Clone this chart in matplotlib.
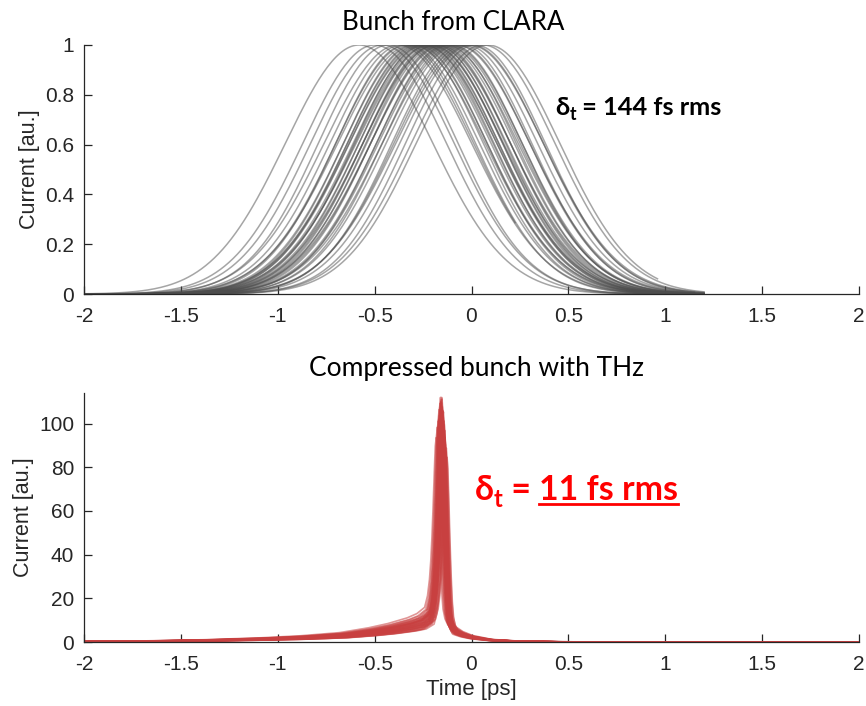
import numpy as np
import matplotlib
matplotlib.use('Agg')
import matplotlib.pyplot as plt
from matplotlib.lines import Line2D

W, H = 866, 706
plt.rcParams['axes.unicode_minus'] = False
plt.rcParams['font.family'] = ['Liberation Sans', 'DejaVu Sans']

# --- bunch from CLARA: peak time [ps], rms width [ps], last sample [ps]
clara_centers = [-0.58, -0.50, -0.46, -0.43, -0.38, -0.36, -0.34, -0.33, -0.31, -0.30,
                 -0.29, -0.28, -0.27, -0.26, -0.25, -0.245, -0.24, -0.23, -0.22, -0.215,
                 -0.21, -0.20, -0.19, -0.185, -0.18, -0.17, -0.16, -0.15, -0.14, -0.13,
                 -0.12, -0.11, -0.10, -0.08, -0.07, -0.05, -0.03, -0.01, 0.0, 0.02,
                 0.06, 0.085]
clara_sigmas = [0.38, 0.37, 0.37, 0.36, 0.38, 0.37, 0.36, 0.37, 0.38, 0.36,
                0.37, 0.36, 0.37, 0.37, 0.38, 0.36, 0.37, 0.37, 0.36, 0.38,
                0.37, 0.36, 0.37, 0.36, 0.38, 0.37, 0.36, 0.37, 0.38, 0.36,
                0.37, 0.37, 0.36, 0.38, 0.37, 0.36, 0.37, 0.38, 0.37, 0.36,
                0.37, 0.37]
clara_ends = [1.2, 1.15, 1.2, 1.1, 1.2, 0.225, 1.2, 1.15, 1.2, 1.1,
              1.2, 1.15, 1.2, 1.2, 1.15, 1.2, 1.1, 1.2, 1.15, 1.2,
              1.2, 1.15, 1.1, 1.2, 1.15, 1.2, 1.2, 1.1, 1.15, 1.2,
              1.2, 1.15, 1.2, 1.1, 1.2, 1.15, 1.2, 1.2, 1.15, 1.2,
              1.2, 0.96]

# --- compressed bunch: profile (offset from peak [ps])
thz_offsets = [-1.9, -1.5, -1.2, -0.9, -0.7, -0.5, -0.35, -0.25, -0.15, -0.1,
               -0.06, -0.045, -0.035, -0.028, -0.022, -0.016, -0.01, -0.005, 0.0,
               0.005, 0.01, 0.016, 0.022, 0.028, 0.035, 0.045, 0.06,
               0.08, 0.1, 0.15, 0.25, 0.4, 0.6, 1.0, 2.3]
thz_spike = [0, 0, 0, 0, 0, 0, 0, 0, 0, 0,
             0.02, 0.08, 0.17, 0.28, 0.42, 0.6, 0.8, 0.95, 1.0,
             0.93, 0.75, 0.5, 0.3, 0.15, 0.06, 0.02, 0.0,
             0, 0, 0, 0, 0, 0, 0, 0]
thz_tail = [0.01, 0.04, 0.08, 0.15, 0.22, 0.33, 0.5, 0.65, 0.85, 1.0,
            1.1, 1.15, 1.18, 1.2, 1.2, 1.2, 1.2, 1.2, 1.2,
            1.2, 1.15, 1.1, 1.0, 0.9, 0.8, 0.7, 0.6,
            0.5, 0.4, 0.25, 0.1, 0.03, 0.008, 0.0, 0.0]
# per shot: peak time [ps], spike height, tail level
thz_t0 = [-0.182, -0.176, -0.172, -0.169, -0.167, -0.165, -0.163, -0.162, -0.160, -0.159,
          -0.158, -0.157, -0.156, -0.155, -0.154, -0.153, -0.152, -0.151, -0.150, -0.149,
          -0.148, -0.147, -0.146, -0.145, -0.144, -0.143, -0.142, -0.141, -0.140, -0.139,
          -0.137, -0.135, -0.133, -0.130, -0.127, -0.160]
thz_height = [78, 84, 88, 90, 92, 93, 95, 96, 97, 98,
              99, 100, 99, 100, 100, 99, 98, 97, 96, 95,
              94, 93, 92, 91, 90, 89, 88, 87, 86, 85,
              84, 82, 80, 78, 75, 100]
thz_level = [13, 12, 11, 10, 12, 9, 8, 11, 7, 10,
             9, 6, 10, 8, 10, 7, 11, 9, 8, 6,
             10, 7, 9, 12, 8, 6, 11, 7, 9, 10,
             8, 7, 6, 9, 8, 10]

xticks = [-2, -1.5, -1, -0.5, 0, 0.5, 1, 1.5, 2]
xticklabels = ['-2', '-1.5', '-1', '-0.5', '0', '0.5', '1', '1.5', '2']

TXT = '#262626'
fig = plt.figure(figsize=(W / 100, H / 100), dpi=100)
ax1 = fig.add_axes([84 / W, 1 - 294 / H, 775 / W, 249 / H])
ax2 = fig.add_axes([84 / W, 1 - 642 / H, 775 / W, 249 / H])

for c, s, e in zip(clara_centers, clara_sigmas, clara_ends):
    t = np.linspace(-2.1, e, 300)
    ax1.plot(t, np.exp(-(t - c) ** 2 / (2 * s ** 2)), color='0.3', alpha=0.5, lw=1.1)

offs = np.array(thz_offsets)
for t0, h, lev in zip(thz_t0, thz_height, thz_level):
    y = h * np.array(thz_spike) + lev * np.array(thz_tail)
    ax2.plot(t0 + offs, y, color='#c84040', alpha=0.55, lw=1.2)

for ax in (ax1, ax2):
    ax.set_xlim(-2, 2)
    ax.set_xticks(xticks)
    ax.set_xticklabels(xticklabels)
    for side in ('top', 'right'):
        ax.spines[side].set_visible(False)
    for side in ('left', 'bottom'):
        ax.spines[side].set_color(TXT)
        ax.spines[side].set_linewidth(0.9)
    ax.tick_params(direction='in', length=6, width=0.9, colors=TXT, labelsize=15)
    ax.tick_params(axis='x', pad=9)
    ax.tick_params(axis='y', pad=7)
    ax.set_ylabel('Current [au.]', fontsize=15.5, color=TXT, labelpad=4)

ax1.set_ylim(0, 1)
ax1.set_yticks([0, 0.2, 0.4, 0.6, 0.8, 1])
ax1.set_yticklabels(['0', '0.2', '0.4', '0.6', '0.8', '1'])
ax2.set_ylim(0, 114)
ax2.set_yticks([0, 20, 40, 60, 80, 100])
ax2.set_xlabel('Time [ps]', fontsize=16, color=TXT, labelpad=4)

cal = ['Lato', 'DejaVu Sans']
fig.text(453 / W, 1 - 22 / H, 'Bunch from CLARA', ha='center', va='center',
         fontsize=18.6, family=cal, color='black')
fig.text(477 / W, 1 - 369 / H, 'Compressed bunch with THz', ha='center', va='center',
         fontsize=19, family=cal, color='black')

renderer = fig.canvas.get_renderer()


def rich(x_px, base_px, parts, color, size):
    x = x_px
    for s, rel, drop, under in parts:
        t = fig.text(x / W, 1 - (base_px + drop) / H, s, ha='left', va='baseline',
                     fontsize=size * rel, fontweight='bold', family=cal, color=color)
        bb = t.get_window_extent(renderer)
        if under:
            yl = 1 - (base_px + 4) / H
            fig.add_artist(Line2D([bb.x0 / W, bb.x1 / W], [yl, yl], color=color, lw=2))
        x = bb.x1


rich(555, 115, [('δ', 1, 0, False), ('t', 0.7, 5, False), (' = ', 1, 0, False),
                ('144 fs rms', 1, 0, False)], 'black', 18.3)
rich(475, 500, [('δ', 1, 0, False), ('t', 0.7, 7, False), (' = ', 1, 0, False),
                ('11 fs rms', 1, 0, True)], '#ff0000', 24.4)

fig.savefig('out.png', dpi=100)
